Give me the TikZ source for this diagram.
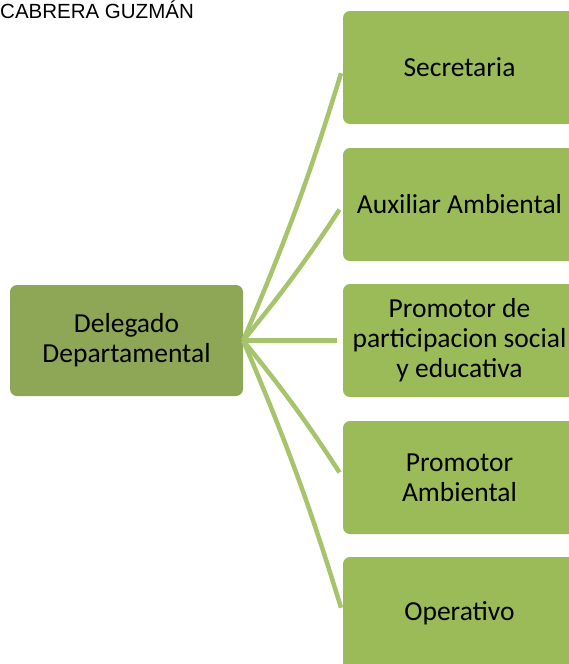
\documentclass[tikz,border=0pt]{standalone}
\usepackage{fontspec}
\setmainfont{Carlito}
\newfontfamily\headfont{Liberation Sans}
\usetikzlibrary{positioning}
\definecolor{rootgreen}{HTML}{8DA756}
\definecolor{boxgreen}{HTML}{9BBB59}
\definecolor{linkgreen}{HTML}{A7C46C}

\begin{document}
\begin{tikzpicture}[x=1pt, y=-1pt,
    box/.style={rectangle, rounded corners=7pt, fill=boxgreen, minimum width=233pt,
        minimum height=113pt, inner sep=0pt, align=center, font=\fontsize{27.5}{30}\selectfont},
    rootbox/.style={box, fill=rootgreen, minimum height=111pt},
    link/.style={linkgreen, line width=4.5pt, shorten >=6pt}]
    \useasboundingbox (0,0) rectangle (569,664);

    % header text
    \node[anchor=base west, inner sep=0pt, font=\headfont\fontsize{20.5}{21}\selectfont] (autor) at (0,18) {CABRERA GUZMÁN};

    % root
    \node[rootbox] (delegado) at (126.5,340.5) {Delegado\\Departamental};

    % children
    \node[box] (secretaria) at (459.5,67.5) {Secretaria};
    \node[box] (auxiliar) at (459.5,204.5) {Auxiliar Ambiental};
    \node[box] (participacion) at (459.5,340.5) {Promotor de\\participacion social\\y educativa};
    \node[box] (ambiental) at (459.5,477.5) {Promotor\\Ambiental};
    \node[box] (operativo) at (459.5,613.5) {Operativo};

    % links
    \foreach \name/\ang in {secretaria/3, auxiliar/3, participacion/0, ambiental/-3, operativo/-3} {
        \draw[link] (delegado.east) to[bend right=\ang] (\name.west);
    }
\end{tikzpicture}
\end{document}
